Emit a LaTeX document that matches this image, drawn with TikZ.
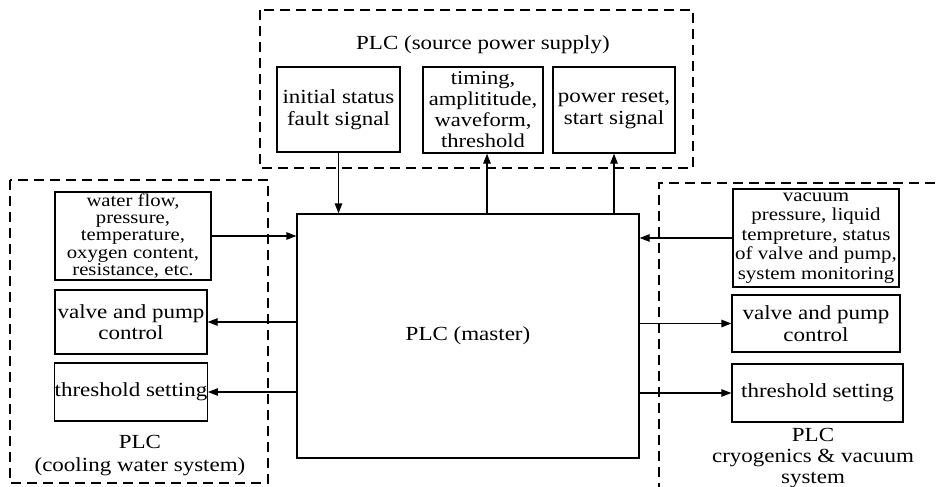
\documentclass[tikz,border=0pt]{standalone}
\usepackage{fontspec}
\setmainfont{Liberation Serif}[FakeStretch=1.15]
\usetikzlibrary{arrows.meta}
\begin{document}
\begin{tikzpicture}[x=1pt,y=-1pt,
  blk/.style={draw, line width=1.3pt, inner sep=0pt, align=center, font=\fontsize{20}{21.5}\selectfont},
  small/.style={font=\fontsize{18}{17.3}\selectfont},
  mid/.style={font=\fontsize{18.2}{19.6}\selectfont},
  lbl/.style={inner sep=0pt, align=center, font=\fontsize{20}{21.5}\selectfont},
  grp/.style={draw, dash pattern=on 10pt off 6pt, line width=1.3pt},
  arr/.style={-{Triangle[length=10pt,width=7.5pt]}, line width=1.3pt}]
\useasboundingbox (0,0) rectangle (940,487);
% group frames
\draw[grp] (260,10) rectangle (693,168);
\draw[grp] (10,180) rectangle (268,483);
\draw[grp] (935,183) -- (659,183) -- (659,490);
% titles
\node[lbl] (ttop) at (483,45) {PLC (source power supply)};
\node[lbl, font=\fontsize{20}{23}\selectfont] (tleft) at (140,456) {PLC\\(cooling water system)};
\node[lbl, font=\fontsize{20}{21}\selectfont] (tright) at (813,458) {PLC\\cryogenics \& vacuum\\system};
% top boxes
\node[blk, minimum width=123pt, minimum height=85pt] (b1) at (338.5,109.5) {initial status\\fault signal};
\node[blk, minimum width=120pt, minimum height=86pt, font=\fontsize{19.6}{21}\selectfont] (b2) at (483,110) {timing,\\amplititude,\\waveform,\\threshold};
\node[blk, minimum width=122pt, minimum height=86pt] (b3) at (614,110) {power reset,\\start signal};
% master
\node[blk, minimum width=342pt, minimum height=244pt] (m) at (468,336) {PLC (master)};
% left boxes
\node[blk, small, minimum width=156pt, minimum height=88pt] (l1) at (133,236) {water flow,\\pressure,\\temperature,\\oxygen content,\\resistance, etc.};
\node[blk, minimum width=152pt, minimum height=64pt] (l2) at (131,322) {valve and pump\\control};
\node[blk, minimum width=152pt, minimum height=58pt] (l3) at (131,392) {threshold setting};
% right boxes
\node[blk, mid, minimum width=166pt, minimum height=98pt] (r1) at (816,238) {vacuum\\pressure, liquid\\tempreture, status\\of valve and pump,\\system monitoring};
\node[blk, minimum width=168pt, minimum height=57pt] (r2) at (816,323.5) {valve and pump\\control};
\node[blk, minimum width=171pt, minimum height=58pt] (r3) at (817.5,393) {threshold setting};
% connectors
\draw[arr] (b1.south) -- (b1.south |- m.north);
\coordinate (c2) at (487,214);
\draw[arr] (c2) -- (c2 |- b2.south);
\draw[arr] (m.north -| b3.south) -- (b3.south);
\draw[arr] (l1.east) -- (l1.east -| m.west);
\draw[arr] (l2.east -| m.west) -- (l2.east);
\draw[arr] (l3.east -| m.west) -- (l3.east);
\draw[arr] (r1.west) -- (r1.west -| m.east);
\draw[arr] (r2.west -| m.east) -- (r2.west);
\draw[arr] (r3.west -| m.east) -- (r3.west);
\end{tikzpicture}
\end{document}
